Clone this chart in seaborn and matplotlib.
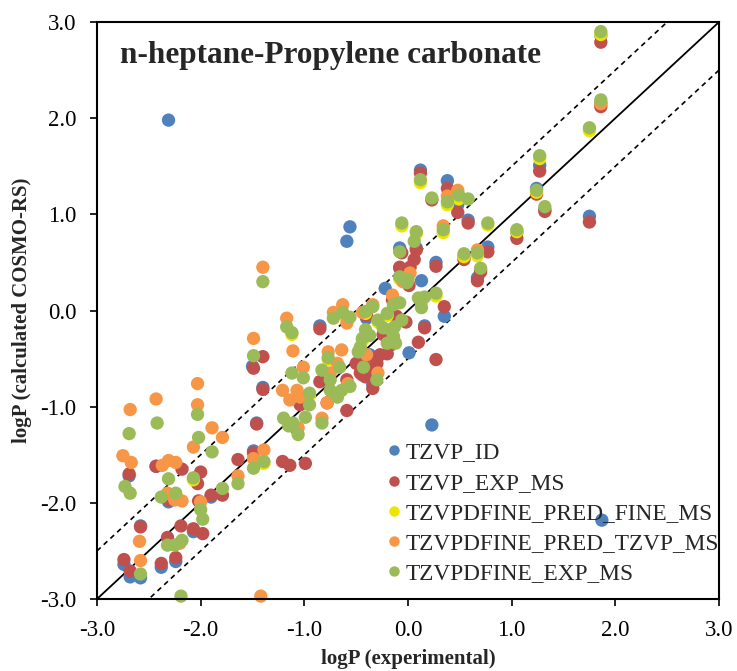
import matplotlib
matplotlib.use("Agg")
import matplotlib.pyplot as plt
from matplotlib.lines import Line2D
import numpy as np
import pandas as pd
import seaborn as sns

# ---- data: logP experimental (x) vs logP calculated by COSMO-RS (y) ----
tzvp_id_x = [-2.31, -0.56, -0.59, 0.12, 0.38, 0.48, 0.58, 1.27, 1.24, 1.75, 1.05, 0.77,
             0.67, 0.27, 0.13, 0.35, -0.22, -0.08, 0.01, 0.23, 1.87, 1.86, 1.86, -0.85,
             -0.34, -1.40, -1.50, -1.46, -1.49, -2.69, -2.43, -1.90, -2.31, -2.58, -2.74,
             -2.68, -2.58, -2.38, -2.24, -2.07, 0.08, -0.08, 0.70, 1.32, 0.54, -0.37,
             0.16, -0.40]
tzvp_id_y = [1.98, 0.87, 0.72, 1.46, 1.35, 1.10, 0.94, 1.51, 1.27, 0.98, 0.81, 0.66,
             0.34, 0.50, 0.31, -0.06, 0.23, 0.65, -0.44, -1.19, -2.18, 2.86, 2.16, -0.16,
             -0.77, -0.80, -0.58, -1.17, -1.46, -1.72, -1.62, -1.94, -1.99, -2.24, -2.64,
             -2.77, -2.78, -2.67, -2.61, -2.30, 0.65, 0.44, 0.42, 1.05, 0.56, -0.46,
             -0.16, -0.08]

tzvp_exp_x = [1.86, 1.86, 1.27, 1.24, 1.32, 1.75, 1.05, 0.77, 0.54, 0.70, 0.67, 0.35,
              0.16, 0.12, 0.38, 0.23, 0.48, 0.58, 0.08, 0.06, -0.06, -0.08, 0.02, -0.02,
              -0.11, 0.10, 0.27, -0.85, -0.34, -0.44, -0.34, -0.85, -0.59, -1.04, -0.78,
              -0.59, -0.40, -1.49, -1.40, -1.40, -1.46, -1.21, -1.14, -0.99, -1.49, -1.64,
              -2.69, -2.43, -2.18, -2.00, -2.03, -1.90, -1.79, -2.31, -2.02, -2.58, -2.19,
              -2.07, -1.98, -2.32, -2.74, -2.68, -2.38, -2.24, -0.27, -0.17, -0.41, -0.46,
              -0.40, -0.24, -0.15, -1.07, 0.01, 0.27, -0.30, -0.20, -0.50]
tzvp_exp_y = [2.79, 2.12, 1.45, 1.21, 1.03, 0.92, 0.75, 0.61, 0.53, 0.40, 0.31, 0.04,
              -0.18, 1.43, 1.27, 1.15, 1.02, 0.91, 0.63, 0.53, 0.60, 0.45, 0.45, -0.12,
              -0.06, -0.33, -0.51, -0.19, -0.60, -0.67, -0.81, -0.74, -0.72, -0.98, -0.96,
              -1.04, -0.48, -0.60, -0.48, -0.82, -1.18, -1.57, -1.61, -1.59, -1.48, -1.55,
              -1.70, -1.62, -1.65, -1.68, -1.80, -1.92, -1.92, -1.97, -1.98, -2.25, -2.24,
              -2.27, -2.32, -2.36, -2.59, -2.71, -2.63, -2.57, -0.46, -0.36, -0.69, -0.65,
              -0.05, -0.25, 0.11, -1.24, 0.26, 0.46, -0.55, -0.45, -0.55]

fine_pred_fine_x = [1.86, 1.75, 1.27, 1.24, 0.12, 0.49, 0.38, 0.34, 0.67, 0.54, -0.06,
                    0.27, -1.39, -1.12, -0.63, -0.41, -0.20, -0.29, 0.77, 1.05, 0.08,
                    -0.08, -0.77, -0.95, -2.07, -0.14, -0.44, 0.13]
fine_pred_fine_y = [2.87, 1.87, 1.58, 1.23, 1.33, 1.16, 1.10, 0.81, 0.57, 0.56, 0.88,
                    0.15, -1.59, -0.25, -0.04, -0.03, -0.05, -0.12, 0.89, 0.82, 0.80,
                    0.33, -0.51, -0.88, -1.76, -0.29, -0.31, 0.09]

fine_pred_tzvp_x = [-1.40, -2.68, -2.43, -2.03, -2.03, -2.07, -1.89, -1.79, -2.75, -2.67,
                    -2.37, -2.31, -2.24, -2.32, -2.25, -2.18, -2.00, -2.59, -2.58, -2.20,
                    -1.64, -1.49, -1.39, -1.49, -1.42, -1.11, -1.21, -1.14, -1.06, -1.17,
                    -0.63, -0.72, -0.59, -0.77, -0.68, -1.01, -1.07, -1.04, -0.83, -0.64,
                    -0.29, -0.40, -0.44, -0.34, 0.02, 0.48, 0.34, 0.38, 1.86, -0.05,
                    -0.75, -0.78, 0.67, -0.58, -0.15]
fine_pred_tzvp_y = [0.45, -1.03, -0.92, -0.76, -0.98, -1.42, -1.22, -1.32, -1.51, -1.58,
                    -1.61, -1.56, -1.58, -1.90, -1.97, -1.98, -1.99, -2.40, -2.60, -2.42,
                    -1.72, -1.54, -1.45, -0.29, -2.97, -0.42, -0.83, -0.93, -1.22, -0.08,
                    0.06, -0.02, -0.13, -0.43, -0.55, -0.59, -0.83, -0.90, -1.12, -0.41,
                    -0.65, -0.46, -0.02, 0.06, 0.39, 1.25, 0.88, 1.19, 2.15, 0.30,
                    -0.65, -0.96, 0.63, -0.76, 0.16]

fine_exp_x = [1.86, 1.86, 1.75, 1.27, 1.24, 1.32, 1.05, 0.77, 0.67, 0.54, 0.70, 0.12,
              0.38, 0.23, 0.49, 0.58, 0.34, -0.06, 0.08, 0.06, -0.08, -0.08, 0.00, 0.27,
              0.12, 0.13, -0.06, -0.08, -0.14, -0.20, -0.34, -0.41, -0.29, -0.24, -0.17,
              -0.13, -0.14, -0.20, -0.12, -0.41, -0.44, -0.46, -0.48, -0.37, -0.63, -0.72,
              -1.12, -0.43, -0.30, -0.77, -0.66, -1.01, -0.83, -0.75, -0.56, -0.64, -0.75,
              -0.68, -0.95, -0.95, -0.99, -0.83, -1.11, -1.40, -1.49, -1.12, -1.20, -1.15,
              -1.06, -2.42, -2.69, -2.03, -2.02, -1.89, -2.73, -2.68, -2.31, -2.07, -2.38,
              -2.24, -2.00, -1.98, -1.79, -1.64, -1.49, -1.39, -2.58, -2.18, -2.25, -2.32,
              -2.19, 0.16, 0.10, -0.01, -0.56, -1.17]
fine_exp_y = [2.90, 2.19, 1.90, 1.61, 1.25, 1.08, 0.84, 0.91, 0.60, 0.59, 0.44, 1.36,
              1.13, 1.17, 1.20, 1.16, 0.84, 0.91, 0.82, 0.72, 0.61, 0.35, 0.32, 0.18,
              0.11, 0.03, -0.10, 0.08, 0.06, -0.03, 0.04, -0.01, -0.10, -0.18, -0.20,
              -0.17, -0.27, -0.34, -0.34, -0.20, -0.29, -0.38, -0.43, -0.26, -0.02, -0.08,
              -0.23, -0.59, -0.72, -0.49, -0.59, -0.70, -0.62, -0.72, -0.79, -0.83, -0.83,
              -0.90, -0.86, -0.98, -1.11, -1.17, -1.17, 0.30, -0.47, -0.65, -1.12, -1.20,
              -1.29, -1.17, -1.28, -1.08, -1.32, -1.47, -1.83, -1.90, -1.75, -1.74, -1.94,
              -1.90, -2.07, -2.17, -1.85, -1.80, -1.64, -1.57, -2.74, -2.39, -2.44, -2.44,
              -2.97, 0.14, 0.13, 0.29, -0.07, -0.17]

series_names = ["TZVP_ID", "TZVP_EXP_MS", "TZVPDFINE_PRED_FINE_MS",
                "TZVPDFINE_PRED_TZVP_MS", "TZVPDFINE_EXP_MS"]
series_x = [tzvp_id_x, tzvp_exp_x, fine_pred_fine_x, fine_pred_tzvp_x, fine_exp_x]
series_y = [tzvp_id_y, tzvp_exp_y, fine_pred_fine_y, fine_pred_tzvp_y, fine_exp_y]
colors = ["#4F81BD", "#C0504D", "#EEE400", "#F79646", "#9BBB59"]

ticks = [-3.0, -2.0, -1.0, 0.0, 1.0, 2.0, 3.0]

df = pd.concat(
    [pd.DataFrame({"exp": x, "calc": y, "set": name})
     for name, x, y in zip(series_names, series_x, series_y)],
    ignore_index=True,
)

# ---- styling ----
sns.set_theme(style="white")
plt.rcParams["font.family"] = ["Liberation Serif", "DejaVu Serif"]
plt.rcParams["axes.unicode_minus"] = False

fig = plt.figure(figsize=(7.37, 6.71), dpi=100)
ax = fig.add_axes([0.1316, 0.1073, 0.8440, 0.8599])

# parity line and +/-0.5 log-unit band
lim = np.array([-3.0, 3.0])
ax.plot(lim, lim, color="black", lw=1.3, zorder=1)
ax.plot(lim, lim + 0.5, color="black", lw=1.2, ls=(0, (3, 2.5)), zorder=1)
ax.plot(lim, lim - 0.5, color="black", lw=1.2, ls=(0, (3, 2.5)), zorder=1)

sns.scatterplot(data=df, x="exp", y="calc", hue="set", hue_order=series_names,
                palette=colors, s=92, linewidth=0, alpha=1.0, legend=False,
                ax=ax, zorder=2, clip_on=False)

ax.set_xlim(-3, 3)
ax.set_ylim(-3, 3)
ax.set_xticks(ticks)
ax.set_yticks(ticks)
ax.set_xticklabels([f"{t:.1f}" for t in ticks])
ax.set_yticklabels([f"{t:.1f}" for t in ticks])
ax.tick_params(axis="both", direction="out", length=5, width=1.2, labelsize=16.5,
               colors="black", bottom=True, left=True)
ax.tick_params(axis="x", pad=10)
ax.tick_params(axis="y", pad=10)
for side in ["left", "right", "top", "bottom"]:
    ax.spines[side].set_color("black")
    ax.spines[side].set_linewidth(1.5)

ax.set_xlabel("logP (experimental)", fontsize=15, fontweight="bold", labelpad=6)
ax.set_ylabel("logP (calculated COSMO-RS)", fontsize=15, fontweight="bold", labelpad=6)

ax.text(-2.78, 2.57, "n-heptane-Propylene carbonate", fontsize=22.5, fontweight="bold",
        ha="left", va="baseline")

handles = [Line2D([], [], marker="o", ls="", markersize=7.5, markeredgewidth=0,
                  markerfacecolor=c) for c in colors]
ax.legend(handles, series_names, loc="upper left", bbox_to_anchor=(0.44, 0.288),
          frameon=False, fontsize=16.8, handletextpad=-0.12, handlelength=1.2,
          labelspacing=0.38, borderaxespad=0.0)

fig.savefig("out.png", dpi=100)
